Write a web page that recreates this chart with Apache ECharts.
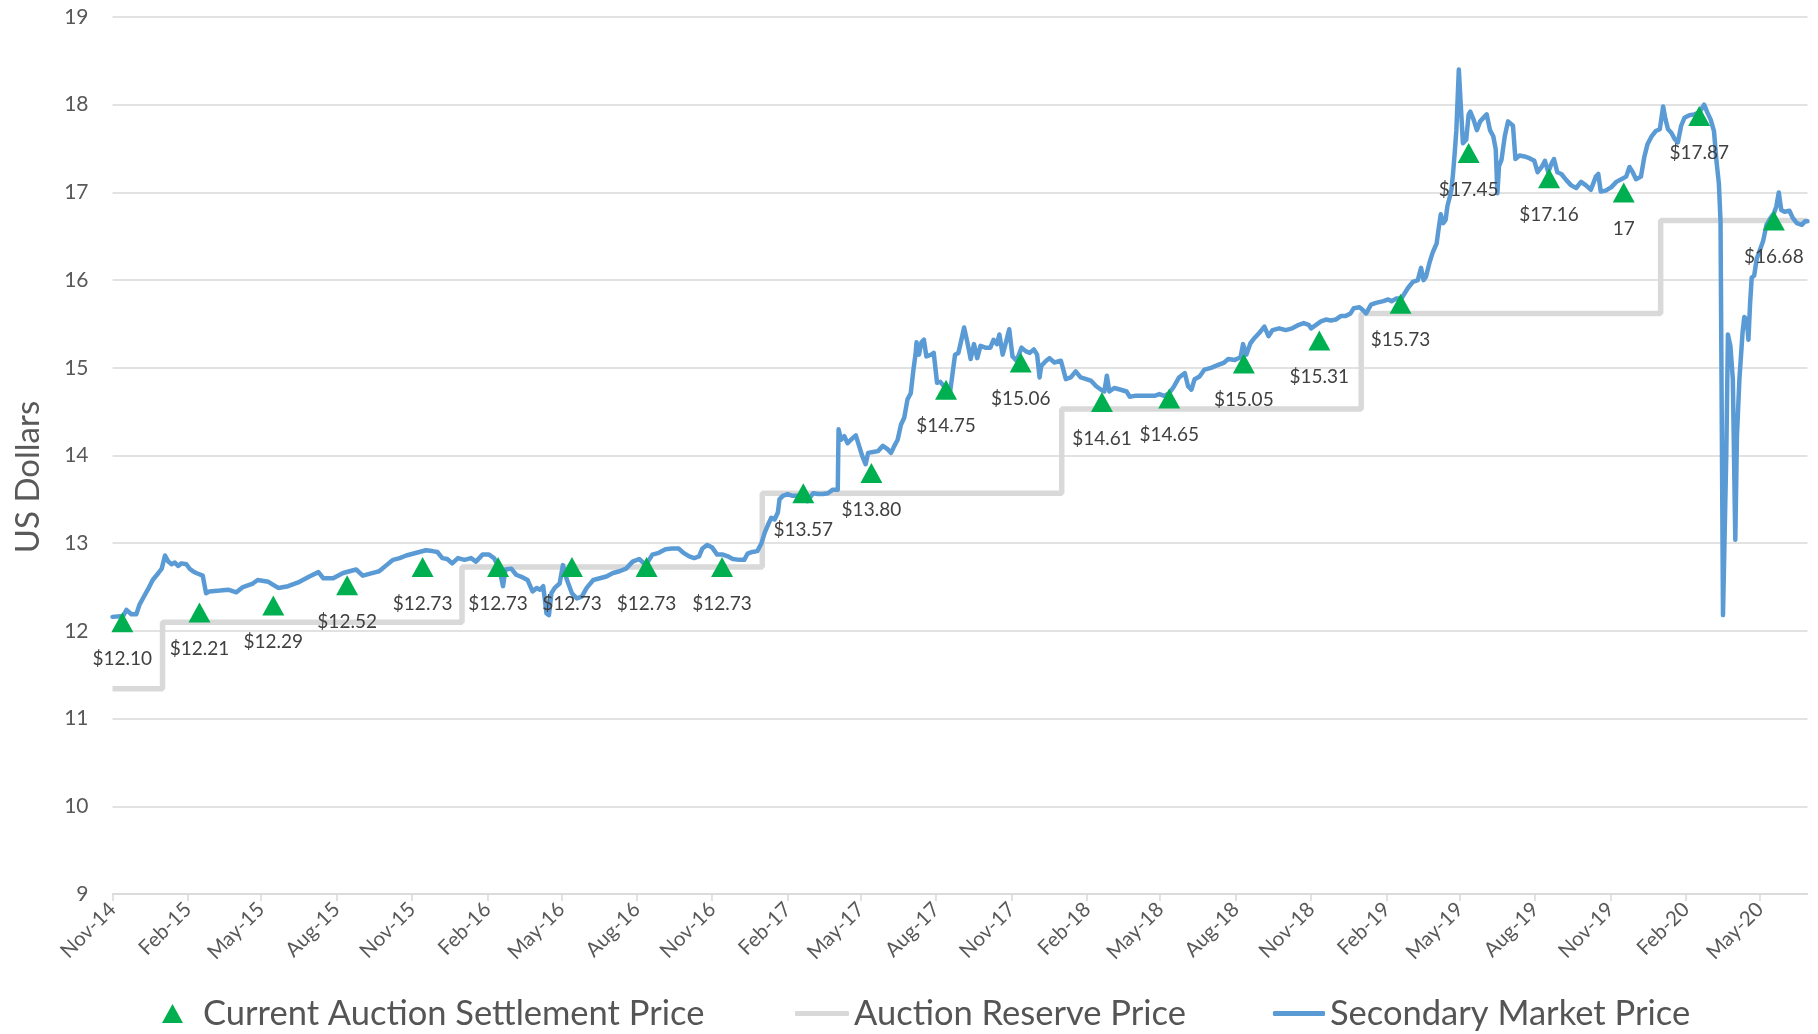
<!DOCTYPE html>
<html><head><meta charset="utf-8">
<script src="https://cdn.jsdelivr.net/npm/echarts@6/dist/echarts.min.js"></script>
<style>html,body{margin:0;padding:0;background:#fff}#c{width:1818px;height:1034px}</style>
</head><body><div id="c"></div>
<script>
const tickDates = ['2014-11-01','2015-02-01','2015-05-01','2015-08-01','2015-11-01','2016-02-01','2016-05-01','2016-08-01','2016-11-01','2017-02-01','2017-05-01','2017-08-01','2017-11-01','2018-02-01','2018-05-01','2018-08-01','2018-11-01','2019-02-01','2019-05-01','2019-08-01','2019-11-01','2020-02-01','2020-05-01'];
const tickLabels = ['Nov-14','Feb-15','May-15','Aug-15','Nov-15','Feb-16','May-16','Aug-16','Nov-16','Feb-17','May-17','Aug-17','Nov-17','Feb-18','May-18','Aug-18','Nov-18','Feb-19','May-19','Aug-19','Nov-19','Feb-20','May-20'];

const reserveDates = ['2014-11-01','2015-01-01','2016-01-01','2017-01-01','2018-01-01','2019-01-01','2020-01-01','2020-06-28'];
const reserveValues = [11.34,12.10,12.73,13.57,14.53,15.62,16.68,16.68];

const settlementDates = ['2014-11-13','2015-02-15','2015-05-16','2015-08-14','2015-11-14','2016-02-14','2016-05-14','2016-08-13','2016-11-13','2017-02-20','2017-05-14','2017-08-13','2017-11-12','2018-02-19','2018-05-12','2018-08-11','2018-11-11','2019-02-18','2019-05-12','2019-08-18','2019-11-17','2020-02-17','2020-05-18'];
const settlementValues = [12.10,12.21,12.29,12.52,12.73,12.73,12.73,12.73,12.73,13.57,13.80,14.75,15.06,14.61,14.65,15.05,15.31,15.73,17.45,17.16,17.00,17.87,16.68];
const settlementLabels = ['$12.10','$12.21','$12.29','$12.52','$12.73','$12.73','$12.73','$12.73','$12.73','$13.57','$13.80','$14.75','$15.06','$14.61','$14.65','$15.05','$15.31','$15.73','$17.45','$17.16','17','$17.87','$16.68'];

const marketDates = [
'2014-11-01','2014-11-14','2014-11-18','2014-11-24','2014-11-30','2014-12-04','2014-12-08','2014-12-14','2014-12-20','2014-12-27','2014-12-31',
'2015-01-04','2015-01-08','2015-01-12','2015-01-16','2015-01-20','2015-01-24','2015-01-30','2015-02-03','2015-02-07','2015-02-11','2015-02-19','2015-02-23','2015-02-27','2015-03-12','2015-03-22','2015-04-01','2015-04-09','2015-04-21','2015-04-27','2015-05-10','2015-05-22','2015-06-03','2015-06-17','2015-06-29','2015-07-10','2015-07-16','2015-07-28','2015-08-09','2015-08-25','2015-09-02','2015-09-18','2015-09-22','2015-10-01','2015-10-09','2015-10-17','2015-10-25','2015-11-02','2015-11-10','2015-11-18','2015-11-26','2015-12-02','2015-12-08','2015-12-14','2015-12-20','2015-12-27',
'2016-01-04','2016-01-12','2016-01-18','2016-01-26','2016-02-03','2016-02-09','2016-02-15','2016-02-20','2016-02-23','2016-03-01','2016-03-07','2016-03-15','2016-03-21','2016-03-27','2016-04-01','2016-04-05','2016-04-09','2016-04-13','2016-04-16','2016-04-19','2016-04-23','2016-04-29','2016-05-03','2016-05-08','2016-05-14','2016-05-20','2016-05-26','2016-06-01','2016-06-09','2016-06-17','2016-06-25','2016-07-03','2016-07-11','2016-07-19','2016-07-27','2016-08-04','2016-08-12','2016-08-20','2016-08-28','2016-09-05','2016-09-13','2016-09-21','2016-09-27','2016-10-04','2016-10-10','2016-10-16','2016-10-20','2016-10-26','2016-11-01','2016-11-07','2016-11-14','2016-11-20','2016-11-26','2016-12-04','2016-12-10','2016-12-14','2016-12-20','2016-12-26','2016-12-31',
'2017-01-04','2017-01-08','2017-01-12','2017-01-16','2017-01-20','2017-01-22','2017-01-26','2017-02-01','2017-02-07','2017-02-13','2017-02-19','2017-02-25','2017-03-04','2017-03-10','2017-03-16','2017-03-22','2017-03-28','2017-04-03','2017-04-04','2017-04-07','2017-04-11','2017-04-15','2017-04-19','2017-04-25','2017-04-29','2017-05-03','2017-05-07','2017-05-10','2017-05-16','2017-05-22','2017-05-28','2017-06-03','2017-06-07','2017-06-11','2017-06-15','2017-06-19','2017-06-23','2017-06-27','2017-07-01','2017-07-04','2017-07-07','2017-07-08','2017-07-11','2017-07-14','2017-07-17','2017-07-20','2017-07-26','2017-07-29','2017-08-02','2017-08-06','2017-08-14','2017-08-18','2017-08-21','2017-08-24','2017-08-28','2017-08-31','2017-09-04','2017-09-08','2017-09-12','2017-09-16','2017-09-20','2017-09-24','2017-09-30','2017-10-06','2017-10-10','2017-10-14','2017-10-17','2017-10-21','2017-10-25','2017-10-29','2017-11-02','2017-11-07','2017-11-13','2017-11-18','2017-11-23','2017-11-28','2017-12-02','2017-12-05','2017-12-07','2017-12-13','2017-12-17','2017-12-23','2017-12-31',
'2018-01-06','2018-01-12','2018-01-18','2018-01-24','2018-01-31','2018-02-06','2018-02-12','2018-02-18','2018-02-22','2018-02-25','2018-02-28','2018-03-06','2018-03-14','2018-03-21','2018-03-25','2018-03-31','2018-04-06','2018-04-12','2018-04-18','2018-04-24','2018-04-30','2018-05-06','2018-05-12','2018-05-18','2018-05-24','2018-05-31','2018-06-04','2018-06-08','2018-06-12','2018-06-18','2018-06-24','2018-07-02','2018-07-10','2018-07-18','2018-07-23','2018-07-31','2018-08-07','2018-08-10','2018-08-14','2018-08-19','2018-08-24','2018-08-30','2018-09-05','2018-09-10','2018-09-15','2018-09-23','2018-10-01','2018-10-09','2018-10-17','2018-10-23','2018-10-29','2018-11-01','2018-11-07','2018-11-13','2018-11-19','2018-11-25','2018-12-01','2018-12-07','2018-12-13','2018-12-19','2018-12-23','2018-12-30',
'2019-01-03','2019-01-07','2019-01-13','2019-01-19','2019-01-28','2019-02-03','2019-02-07','2019-02-13','2019-02-19','2019-02-23','2019-02-27','2019-03-05','2019-03-11','2019-03-15','2019-03-18','2019-03-21','2019-03-25','2019-03-29','2019-04-03','2019-04-05','2019-04-08','2019-04-11','2019-04-14','2019-04-16','2019-04-19','2019-04-21','2019-04-23','2019-04-25','2019-04-27','2019-04-30','2019-05-02','2019-05-05','2019-05-09','2019-05-12','2019-05-14','2019-05-18','2019-05-22','2019-05-26','2019-05-30','2019-06-03','2019-06-07','2019-06-11','2019-06-14','2019-06-16','2019-06-18','2019-06-21','2019-06-25','2019-06-29','2019-07-01','2019-07-05','2019-07-08','2019-07-13','2019-07-19','2019-07-25','2019-07-31','2019-08-04','2019-08-09','2019-08-13','2019-08-17','2019-08-21','2019-08-24','2019-08-28','2019-09-02','2019-09-08','2019-09-14','2019-09-20','2019-09-26','2019-10-02','2019-10-08','2019-10-14','2019-10-17','2019-10-20','2019-10-26','2019-11-02','2019-11-08','2019-11-14','2019-11-20','2019-11-24','2019-11-28','2019-12-02','2019-12-08','2019-12-12','2019-12-16','2019-12-21','2019-12-26','2019-12-31',
'2020-01-04','2020-01-07','2020-01-10','2020-01-14','2020-01-18','2020-01-22','2020-01-26','2020-01-30','2020-02-05','2020-02-11','2020-02-17','2020-02-23','2020-02-27','2020-03-02','2020-03-06','2020-03-09','2020-03-12','2020-03-14','2020-03-17','2020-03-21','2020-03-23','2020-03-26','2020-03-29','2020-04-01','2020-04-03','2020-04-06','2020-04-10','2020-04-12','2020-04-15','2020-04-17','2020-04-19','2020-04-21','2020-04-24','2020-04-27','2020-05-02','2020-05-05','2020-05-09','2020-05-14','2020-05-18','2020-05-21','2020-05-24','2020-05-27','2020-05-31','2020-06-06','2020-06-10','2020-06-15','2020-06-21','2020-06-25','2020-06-28'];
const marketValues = [
12.16,12.17,12.24,12.19,12.19,12.30,12.37,12.47,12.58,12.66,12.71,
12.86,12.79,12.76,12.78,12.74,12.77,12.76,12.71,12.68,12.66,12.63,12.43,12.45,12.46,12.47,12.44,12.50,12.54,12.58,12.56,12.49,12.51,12.56,12.62,12.67,12.60,12.60,12.66,12.70,12.63,12.67,12.68,12.75,12.81,12.83,12.86,12.88,12.90,12.92,12.91,12.90,12.83,12.82,12.77,12.83,
12.81,12.83,12.79,12.87,12.87,12.83,12.73,12.51,12.70,12.71,12.64,12.61,12.58,12.45,12.49,12.47,12.51,12.20,12.18,12.43,12.49,12.54,12.75,12.58,12.43,12.37,12.39,12.49,12.58,12.60,12.62,12.66,12.68,12.71,12.79,12.82,12.75,12.87,12.89,12.93,12.94,12.94,12.89,12.85,12.83,12.85,12.94,12.98,12.95,12.87,12.87,12.85,12.82,12.81,12.81,12.88,12.90,12.91,13.00,
13.12,13.21,13.29,13.27,13.35,13.50,13.54,13.56,13.54,13.54,13.56,13.48,13.57,13.56,13.56,13.57,13.61,13.61,14.30,14.18,14.22,14.14,14.18,14.23,14.11,13.99,13.90,14.03,14.04,14.05,14.11,14.07,14.03,14.11,14.18,14.35,14.43,14.64,14.71,14.96,15.17,15.29,15.15,15.29,15.32,15.13,15.15,15.17,14.83,14.84,14.75,14.73,14.94,15.15,15.17,15.29,15.46,15.29,15.10,15.27,15.11,15.25,15.23,15.23,15.32,15.27,15.38,15.15,15.29,15.44,15.13,15.08,15.23,15.19,15.17,15.21,15.15,14.89,15.02,15.08,15.11,15.06,15.08,
14.87,14.89,14.96,14.89,14.87,14.85,14.79,14.75,14.73,14.91,14.73,14.77,14.75,14.73,14.67,14.68,14.68,14.68,14.68,14.68,14.70,14.68,14.71,14.79,14.89,14.94,14.79,14.75,14.87,14.90,14.98,15.00,15.03,15.06,15.10,15.09,15.12,15.27,15.15,15.28,15.34,15.40,15.47,15.36,15.43,15.45,15.43,15.45,15.49,15.51,15.49,15.45,15.49,15.53,15.55,15.54,15.55,15.59,15.59,15.62,15.68,15.69,
15.66,15.62,15.72,15.74,15.76,15.78,15.76,15.79,15.79,15.85,15.91,15.98,16.00,16.14,16.00,16.04,16.19,16.31,16.42,16.56,16.75,16.65,16.69,16.84,16.95,17.03,17.22,17.45,17.71,18.40,18.06,17.56,17.60,17.89,17.92,17.83,17.71,17.81,17.85,17.89,17.71,17.64,17.49,16.99,17.30,17.37,17.64,17.81,17.82,17.76,17.38,17.42,17.41,17.39,17.36,17.23,17.29,17.36,17.23,17.33,17.38,17.23,17.21,17.14,17.08,17.05,17.12,17.08,17.03,17.18,17.21,17.01,17.02,17.06,17.12,17.15,17.18,17.29,17.23,17.15,17.18,17.40,17.55,17.64,17.70,17.72,
17.98,17.83,17.72,17.68,17.61,17.57,17.76,17.85,17.88,17.89,17.91,18.00,17.91,17.83,17.70,17.36,17.10,16.67,12.18,14.01,15.38,15.25,14.87,13.04,14.22,14.87,15.42,15.58,15.55,15.32,15.73,16.03,16.05,16.24,16.37,16.45,16.63,16.71,16.76,16.84,17.00,16.80,16.78,16.79,16.71,16.65,16.63,16.67,16.67];

function ts(s){const p=s.split('-').map(Number);return Date.UTC(p[0],p[1]-1,p[2]);}
const tickTs = tickDates.map(ts);
const labelMap = {}; tickTs.forEach((t,i)=>{labelMap[t]=tickLabels[i];});

const FONT = 'Lato';
const LEG = {fontSize:34.5,color:'#555555',fontFamily:FONT};
const chart = echarts.init(document.getElementById('c'), null, {renderer:'canvas'});
chart.setOption({
  animation:false,
  backgroundColor:'#ffffff',
  textStyle:{fontFamily:FONT},
  grid:{left:112.5,right:10.5,top:17,bottom:140,containLabel:false},
  xAxis:{
    type:'value', min:ts('2014-11-01'), max:ts('2020-06-28'),
    axisLine:{show:true,lineStyle:{color:'#d9d9d9',width:1.5}},
    axisTick:{show:true,length:7,lineStyle:{color:'#d9d9d9',width:1.5},customValues:tickTs},
    axisLabel:{customValues:tickTs,rotate:45,color:'#595959',fontSize:20.5,fontFamily:FONT,margin:12,
      formatter:v=>labelMap[v]||''},
    splitLine:{show:false}
  },
  yAxis:{
    type:'value',min:9,max:19,interval:1,
    axisLine:{show:false},axisTick:{show:false},
    axisLabel:{color:'#595959',fontSize:21,fontFamily:FONT,margin:24},
    splitLine:{lineStyle:{color:'#d9d9d9',width:1.5}}
  },
  legend:[
    {left:162,top:996,padding:0,itemWidth:21,itemHeight:19,icon:'triangle',data:['Current Auction Settlement Price'],
     textStyle:Object.assign({padding:[0,0,0,15]},LEG)},
    {left:795,top:996,padding:0,itemWidth:54,itemHeight:5,icon:'roundRect',data:['Auction Reserve Price'],
     textStyle:LEG},
    {left:1273,top:996,padding:0,itemWidth:52,itemHeight:5,icon:'roundRect',data:['Secondary Market Price'],
     textStyle:LEG}
  ],
  graphic:[{type:'text',x:28,y:477,rotation:Math.PI/2,
    style:{text:'US Dollars',font:'33px Lato',fill:'#595959',align:'center',verticalAlign:'middle'}}],
  series:[
    {name:'Auction Reserve Price',type:'line',step:'end',showSymbol:false,
     data:reserveDates.map((d,i)=>[ts(d),reserveValues[i]]),
     itemStyle:{color:'#d9d9d9'},lineStyle:{color:'#d9d9d9',width:5.5},z:2},
    {name:'Secondary Market Price',type:'line',showSymbol:false,
     data:marketDates.map((d,i)=>[ts(d),marketValues[i]]),
     itemStyle:{color:'#5b9bd5'},lineStyle:{color:'#5b9bd5',width:4.5,cap:'round',join:'round'},z:3},
    {name:'Current Auction Settlement Price',type:'scatter',symbol:'triangle',symbolSize:[22,20],
     data:settlementDates.map((d,i)=>[ts(d),settlementValues[i]]),
     itemStyle:{color:'#00b050',opacity:1},
     label:{show:true,position:'bottom',distance:17,color:'#404040',fontSize:19,fontFamily:FONT,
       formatter:p=>settlementLabels[p.dataIndex]},z:4}
  ]
});
</script></body></html>
